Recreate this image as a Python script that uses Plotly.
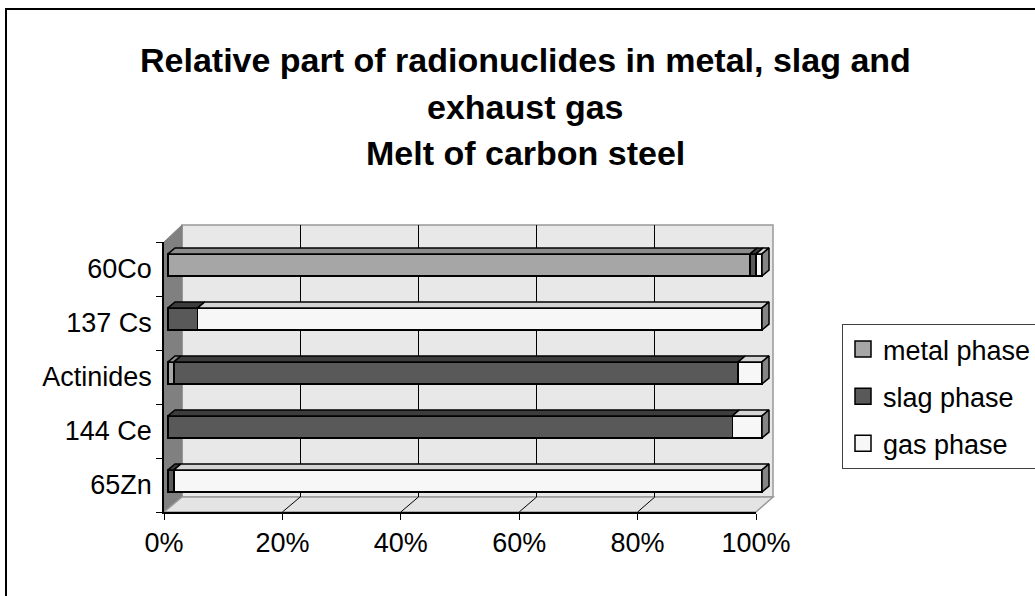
import plotly.graph_objects as go

# ---------------- data ----------------
categories = ["60Co", "137 Cs", "Actinides", "144 Ce", "65Zn"]   # top to bottom
metal_phase = [98.0, 0.0, 1.0, 0.0, 0.0]
slag_phase = [1.0, 5.0, 95.0, 95.0, 1.0]
gas_phase = [1.0, 95.0, 4.0, 5.0, 99.0]
x_ticks = [0, 20, 40, 60, 80, 100]
x_tick_labels = ["0%", "20%", "40%", "60%", "80%", "100%"]
series_names = ["metal phase", "slag phase", "gas phase"]
title_lines = ["Relative part of radionuclides in metal, slag and",
               "exhaust gas", "Melt of carbon steel"]

# ---------------- styling ----------------
W, H = 1035, 596
FONT = "Arial, Liberation Sans, sans-serif"
front_cols = ["#a6a6a6", "#595959", "#f7f7f7"]
top_cols = ["#8c8c8c", "#3d3d3d", "#d4d4d4"]
end_cols = ["#7a7a7a", "#333333", "#858585"]


def px(x):
    return x / W


def py(y):
    return 1 - y / H


n = len(categories)
ypos = [n - 1 - i for i in range(n)]  # 60Co on top
series = [metal_phase, slag_phase, gas_phase]

# bar geometry (in data units of the bar subplot)
OFF = 0.075          # upward shift of bar centre
BH = 0.41            # front-face height
DX = 1.18            # depth shift in x (percent units)
DY = 0.11            # depth shift in y (category units)

fig = go.Figure()

# dummy traces so the grid subplot and the front-axis subplot are drawn
fig.add_trace(go.Scatter(x=[None], y=[None], xaxis="x", yaxis="y",
                         showlegend=False, hoverinfo="skip"))
fig.add_trace(go.Scatter(x=[None], y=[None], xaxis="x3", yaxis="y3",
                         showlegend=False, hoverinfo="skip"))

# bars: front faces
for s, name in enumerate(series_names):
    fig.add_trace(go.Bar(
        y=[p + OFF for p in ypos], x=series[s], orientation="h", width=BH,
        marker=dict(color=front_cols[s], line=dict(color="black", width=1.5)),
        name=name, showlegend=False, xaxis="x2", yaxis="y2", hoverinfo="skip"))

# bars: top faces and right end faces
for i in range(n):
    start = 0.0
    yc = ypos[i] + OFF
    yt = yc + BH / 2
    yb = yc - BH / 2
    last = max(s for s in range(3) if series[s][i] > 0)
    for s in range(3):
        v = series[s][i]
        if v <= 0:
            continue
        a, b = start, start + v
        fig.add_trace(go.Scatter(
            x=[a, a + DX, b + DX, b, a], y=[yt, yt + DY, yt + DY, yt, yt],
            fill="toself", fillcolor=top_cols[s], mode="lines",
            line=dict(color="black", width=1.5), showlegend=False,
            xaxis="x2", yaxis="y2", hoverinfo="skip"))
        if s == last:
            fig.add_trace(go.Scatter(
                x=[b, b + DX, b + DX, b, b], y=[yb, yb + DY, yt + DY, yt, yb],
                fill="toself", fillcolor=end_cols[s], mode="lines",
                line=dict(color="black", width=1.5), showlegend=False,
                xaxis="x2", yaxis="y2", hoverinfo="skip"))
        start = b

# legend entries
for s, name in enumerate(series_names):
    fig.add_trace(go.Scatter(
        x=[None], y=[None], mode="markers", name=name, legendgroup=name,
        marker=dict(symbol="square", size=16, color=front_cols[s],
                    line=dict(color="black", width=1.5)),
        xaxis="x2", yaxis="y2"))

# ---------------- geometry of the 3D box (pixels) ----------------
BACK_L, BACK_R, BACK_T, BACK_B = 182, 773, 225, 497
FRONT_L, FRONT_R, FRONT_T, FRONT_B = 164, 756, 242, 512
BAR0, BAR100 = 168, 762
scale = (BAR100 - BAR0) / 100.0

shapes = []
# outer frame
shapes.append(dict(type="rect", xref="paper", yref="paper", x0=px(6), y0=py(9),
                   x1=px(1045), y1=py(610), line=dict(color="black", width=2),
                   fillcolor="rgba(0,0,0,0)", layer="below"))
# back wall
shapes.append(dict(type="rect", xref="paper", yref="paper",
                   x0=px(BACK_L), x1=px(BACK_R), y0=py(BACK_B), y1=py(BACK_T),
                   fillcolor="#e8e8e8", line=dict(color="#999999", width=1.5), layer="below"))
# left wall
shapes.append(dict(type="path", xref="paper", yref="paper",
                   path=f"M {px(FRONT_L)} {py(FRONT_T)} L {px(BACK_L)} {py(BACK_T)} "
                        f"L {px(BACK_L)} {py(BACK_B)} L {px(FRONT_L)} {py(FRONT_B)} Z",
                   fillcolor="#808080", line=dict(color="#808080", width=1), layer="below"))
# floor
shapes.append(dict(type="path", xref="paper", yref="paper",
                   path=f"M {px(FRONT_L)} {py(FRONT_B)} L {px(BACK_L)} {py(BACK_B)} "
                        f"L {px(BACK_R)} {py(BACK_B)} L {px(FRONT_R)} {py(FRONT_B)} Z",
                   fillcolor="#e4e4e4", line=dict(color="#999999", width=1.5), layer="below"))
# floor diagonals for interior ticks
for t in x_ticks[1:-1]:
    bx = BACK_L + t / 100 * (BACK_R - BACK_L)
    fx = FRONT_L + t / 100 * (FRONT_R - FRONT_L)
    shapes.append(dict(type="line", xref="paper", yref="paper",
                       x0=px(bx), y0=py(BACK_B), x1=px(fx), y1=py(FRONT_B),
                       line=dict(color="black", width=1), layer="below"))

# title as three centred lines
title_y = [60, 107, 153]
annotations = [dict(text=f"<b>{t}</b>", xref="paper", yref="paper", x=px(525),
                    y=py(yy), xanchor="center", yanchor="middle", showarrow=False,
                    font=dict(family=FONT, size=34, color="black"))
               for t, yy in zip(title_lines, title_y)]

# bar subplot ranges
bx_l, bx_r = 164, 790
by_t, by_b = 225, 512
x2_range = [(bx_l - BAR0) / scale, (bx_r - BAR0) / scale]
y2_range = [-0.5, -0.5 + (by_b - by_t) / 54.0]

fig.update_layout(
    width=W, height=H, autosize=False,
    margin=dict(l=0, r=0, t=0, b=0, pad=0, autoexpand=False),
    paper_bgcolor="white", plot_bgcolor="rgba(0,0,0,0)",
    barmode="stack",
    font=dict(family=FONT, color="black"),
    shapes=shapes,
    annotations=annotations,
    # back-wall gridlines
    xaxis=dict(domain=[px(BACK_L), px(BACK_R)], range=[0, 100], anchor="y",
               tickvals=x_ticks[1:-1], showgrid=True, gridcolor="black", gridwidth=1,
               showticklabels=False, ticks="", zeroline=False, showline=False, fixedrange=True),
    yaxis=dict(domain=[py(BACK_B), py(BACK_T)], range=[0, 1], anchor="x",
               showgrid=False, showticklabels=False, zeroline=False, showline=False),
    # bars
    xaxis2=dict(domain=[px(bx_l), px(bx_r)], range=x2_range, anchor="y2",
                showgrid=False, showticklabels=False, zeroline=False, showline=False, ticks=""),
    yaxis2=dict(domain=[py(by_b), py(by_t)], range=y2_range, anchor="x2",
                showgrid=False, showticklabels=False, zeroline=False, showline=False, ticks=""),
    # front axes
    xaxis3=dict(domain=[px(FRONT_L), px(FRONT_R)], range=[0, 100], anchor="y3",
                tickvals=x_ticks, ticktext=x_tick_labels, ticks="outside", ticklen=6,
                tickcolor="black", showline=True, linecolor="black", linewidth=1.5,
                showgrid=False, zeroline=False, tickfont=dict(size=27, family=FONT)),
    yaxis3=dict(domain=[py(FRONT_B), py(FRONT_T)], range=[-0.5, n - 0.5], anchor="x3",
                tickvals=ypos, ticktext=categories, ticks="", showline=True,
                linecolor="black", linewidth=1.5, showgrid=False, zeroline=False,
                tickfont=dict(size=27, family=FONT), ticklabelstandoff=5,
                minor=dict(tickvals=[k - 0.5 for k in range(n + 1)], ticks="outside",
                           ticklen=6, tickcolor="black", showgrid=False)),
    legend=dict(x=px(842), y=py(324), xanchor="left", yanchor="top",
                bordercolor="#404040", borderwidth=1, bgcolor="white",
                font=dict(size=27, family=FONT), tracegroupgap=9,
                traceorder="grouped"),
)

fig.write_html("out.html", config={"displayModeBar": False},
               post_script="document.body.style.margin='0';document.body.style.overflow='hidden';")
